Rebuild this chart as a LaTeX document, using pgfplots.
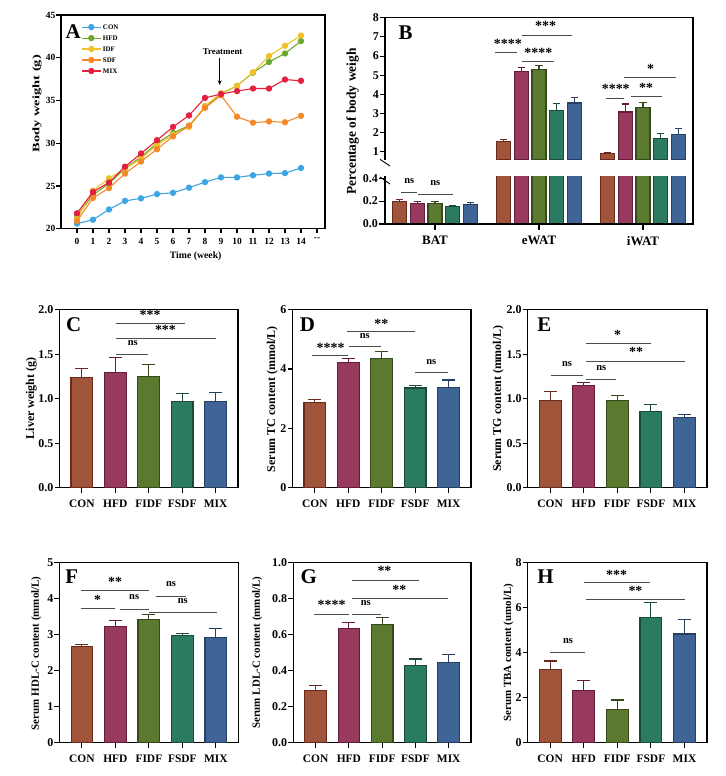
\documentclass[border=0pt]{standalone}
\usepackage{fontspec}
\setmainfont{Liberation Serif}
\usepackage{graphicx}
\usepackage{pgfplots}
\pgfplotsset{compat=1.18}
\usetikzlibrary{arrows.meta}

\definecolor{CONf}{HTML}{A0553B}\definecolor{CONd}{HTML}{6B2A1E}
\definecolor{HFDf}{HTML}{983A5E}\definecolor{HFDd}{HTML}{651C3A}
\definecolor{FIDFf}{HTML}{5B7A30}\definecolor{FIDFd}{HTML}{35491C}
\definecolor{FSDFf}{HTML}{2A7B62}\definecolor{FSDFd}{HTML}{1A4B3A}
\definecolor{MIXf}{HTML}{3F6597}\definecolor{MIXd}{HTML}{283F62}
\definecolor{LCON}{HTML}{3DA5DF}\definecolor{LHFD}{HTML}{6BAA2E}
\definecolor{LIDF}{HTML}{EFC12A}\definecolor{LSDF}{HTML}{F4892B}
\definecolor{LMIX}{HTML}{E3203E}

\newcommand{\fs}[1]{\fontsize{#1}{#1}\selectfont\bfseries}
% bar: color, x, y, err, bar width, cap half-length
\newcommand{\gbar}[6]{\addplot[ybar, bar width=#5, bar shift=0pt, fill=#1f, draw=#1d, line width=1.1bp,
  error bars/.cd, y dir=plus, y explicit,
  error bar style={line width=1.1bp, draw=#1d, solid},
  error mark=|, error mark options={line width=1.1bp, mark size=#6bp, draw=#1d, solid}]
  coordinates {(#2,#3) +- (0,#4)};}
\newcommand{\sgl}[3]{\draw[line width=0.9bp, black!70] (axis cs:#1,#3) -- (axis cs:#2,#3);}
\newcommand{\sgs}[3]{\node[font=\fs{14}, inner sep=0pt] at (axis cs:#1,#2) {#3};}
\newcommand{\sgn}[2]{\node[font=\fs{10.5}, inner sep=0pt] at (axis cs:#1,#2) {ns};}
\newcommand{\lett}[3]{\node[font=\fs{21}, inner sep=0pt] at ([xshift=#1bp,yshift=-#2bp]rel axis cs:0,1) {#3};}

\pgfplotsset{
  base/.style={scale only axis, enlargelimits=false, clip mode=individual, anchor=south west,
    tick align=outside, tick pos=left, major tick length=5bp,
    axis line style={line width=1.1bp}, every tick/.style={line width=1.1bp, black},
    /pgf/number format/assume math mode=true, minor tick num=0},
  barpanel/.style={base, xmin=-0.67, xmax=4.67, xtick={0,1,2,3,4},
    xticklabels={CON,HFD,FIDF,FSDF,MIX},
    xticklabel style={font=\fs{11.5}, inner sep=3.5bp, yshift=-3.5bp},
    yticklabel style={font=\fs{12}, inner sep=1bp}},
}

\begin{document}
\begin{tikzpicture}
\path[use as bounding box] (0bp,0bp) rectangle (726bp,776bp);

% ---------------- A ----------------
\begin{axis}[base, at={(61bp,547.3bp)}, width=264bp, height=213.7bp,
  xmin=-1, xmax=15.5, ymin=20, ymax=45, major tick length=4.5bp,
  xtick={0,...,15}, xticklabels={0,1,2,3,4,5,6,7,8,9,10,11,12,13,14,{-{}-}},
  ytick={20,25,30,35,40,45},
  tick label style={font=\fs{9.5}},
  xticklabel style={yshift=-1.5bp},
  yticklabel style={inner sep=1bp},
  xlabel={Time (week)}, xlabel style={font=\fs{9.8}, at={(axis description cs:0.51,-0.128)}, anchor=center},
  ylabel={\scalebox{1.45}[1]{Body weight (g)}}, ylabel style={font=\fs{10}, at={(axis description cs:-0.0909,0.585)}, anchor=center},
  legend style={at={(0.076,0.97)}, anchor=north west, draw=none, fill=none, inner xsep=0pt, inner ysep=0pt,
    font=\fs{7}, nodes={inner sep=1.6bp, text depth=0.1em, text height=0.68em}, cells={anchor=west}},
  legend image code/.code={\draw[mark repeat=2,mark phase=2] plot coordinates {(0bp,0bp) (9.5bp,0bp) (19bp,0bp)};},
  every axis plot/.append style={line width=1.1bp, mark=*, mark size=2.6bp}]
\addplot[LCON, mark options={fill=LCON, draw=LCON}] coordinates {(0,20.6)(1,21.05)(2,22.25)(3,23.25)(4,23.55)(5,24.05)(6,24.2)(7,24.8)(8,25.45)(9,26.0)(10,26.0)(11,26.25)(12,26.45)(13,26.5)(14,27.1)};
\addplot[LHFD, mark options={fill=LHFD, draw=LHFD}] coordinates {(0,21.5)(1,23.95)(2,25.3)(3,27.05)(4,28.4)(5,30.0)(6,31.2)(7,32.05)(8,34.2)(9,35.8)(10,36.7)(11,38.25)(12,39.5)(13,40.5)(14,41.95)};
\addplot[LIDF, mark options={fill=LIDF, draw=LIDF}] coordinates {(0,21.2)(1,24.45)(2,25.9)(3,27.0)(4,28.2)(5,29.8)(6,31.0)(7,31.9)(8,34.35)(9,35.85)(10,36.7)(11,38.3)(12,40.2)(13,41.4)(14,42.6)};
\addplot[LSDF, mark options={fill=LSDF, draw=LSDF}] coordinates {(0,20.9)(1,23.6)(2,24.75)(3,26.45)(4,27.85)(5,29.3)(6,30.8)(7,32.05)(8,34.15)(9,35.6)(10,33.1)(11,32.4)(12,32.55)(13,32.45)(14,33.2)};
\addplot[LMIX, mark options={fill=LMIX, draw=LMIX}] coordinates {(0,21.8)(1,24.3)(2,25.4)(3,27.25)(4,28.8)(5,30.35)(6,31.9)(7,33.25)(8,35.3)(9,35.75)(10,36.1)(11,36.4)(12,36.4)(13,37.45)(14,37.3)};
\legend{CON,HFD,IDF,SDF,MIX}
\node[font=\fs{8.9}] at (axis cs:9.10,40.68) {Treatment};
\draw[-{Stealth[length=4.5bp,width=4bp]}, line width=0.8bp] (axis cs:8.92,39.92) -- (axis cs:8.92,36.82);
\lett{12.3}{17}{A}
\end{axis}

% ---------------- B upper ----------------
\begin{axis}[base, at={(385bp,616bp)}, width=308bp, height=142.3bp,
  xmin=-0.4808, xmax=2.4808, ymin=0.58, ymax=8, xtick=\empty, ytick={1,2,3,4,5,6,7,8},
  axis line style={draw=none}, yticklabel style={font=\fs{12}, inner sep=1bp},
  ylabel={Percentage of body weigh}, ylabel style={font=\fs{13.5}, at={(axis description cs:-0.1055,0.27)}, anchor=center}]
\gbar{CON}{0.658}{1.56}{0.10}{0.135}{3.7}
\gbar{HFD}{0.829}{5.20}{0.22}{0.135}{3.7}
\gbar{FIDF}{1}{5.29}{0.21}{0.135}{3.7}
\gbar{FSDF}{1.171}{3.16}{0.35}{0.135}{3.7}
\gbar{MIX}{1.342}{3.55}{0.31}{0.135}{3.7}
\gbar{CON}{1.658}{0.90}{0.07}{0.135}{3.7}
\gbar{HFD}{1.829}{3.08}{0.42}{0.135}{3.7}
\gbar{FIDF}{2}{3.34}{0.23}{0.135}{3.7}
\gbar{FSDF}{2.171}{1.72}{0.24}{0.135}{3.7}
\gbar{MIX}{2.342}{1.92}{0.28}{0.135}{3.7}
\draw[line width=1.1bp] (rel axis cs:0,0) -- (rel axis cs:0,1) -- (rel axis cs:1,1) -- (rel axis cs:1,-0.116);
\draw[line width=0.9bp] ([xshift=-5bp,yshift=0.7bp]rel axis cs:0,0) -- ([xshift=5bp,yshift=-6bp]rel axis cs:0,0);
\sgl{0.577}{0.788}{6.18} \sgs{0.70}{6.62}{****}
\sgl{0.834}{1.314}{7.10} \sgs{1.064}{7.57}{***}
\sgl{0.834}{1.147}{5.71} \sgs{0.993}{6.16}{****}
\sgl{1.644}{1.82}{3.81} \sgs{1.738}{4.27}{****}
\sgl{1.885}{2.18}{3.87} \sgs{2.029}{4.34}{**}
\sgl{1.82}{2.317}{4.91} \sgs{2.074}{5.34}{*}
\lett{20.7}{14.6}{B}
\end{axis}

% ---------------- B lower ----------------
\begin{axis}[base, at={(385bp,552bp)}, width=308bp, height=47.5bp, major tick length=6bp,
  xmin=-0.4808, xmax=2.4808, ymin=0, ymax=0.415, xtick={0,1,2}, xticklabels={BAT,eWAT,iWAT},
  ytick={0,0.2,0.4}, yticklabels={0.0,0.2,0.4},
  axis line style={draw=none}, yticklabel style={font=\fs{12}, inner sep=1bp},
  xticklabel style={font=\fs{13}, yshift=-2.5bp}]
\gbar{CON}{-0.342}{0.198}{0.018}{0.135}{3.7}
\gbar{HFD}{-0.171}{0.181}{0.018}{0.135}{3.7}
\gbar{FIDF}{0}{0.178}{0.018}{0.135}{3.7}
\gbar{FSDF}{0.171}{0.150}{0.013}{0.135}{3.7}
\gbar{MIX}{0.342}{0.173}{0.017}{0.135}{3.7}
\gbar{CON}{0.658}{1.56}{0.10}{0.135}{3.7}
\gbar{HFD}{0.829}{5.20}{0.22}{0.135}{3.7}
\gbar{FIDF}{1}{5.29}{0.21}{0.135}{3.7}
\gbar{FSDF}{1.171}{3.16}{0.35}{0.135}{3.7}
\gbar{MIX}{1.342}{3.55}{0.31}{0.135}{3.7}
\gbar{CON}{1.658}{0.90}{0.07}{0.135}{3.7}
\gbar{HFD}{1.829}{3.08}{0.42}{0.135}{3.7}
\gbar{FIDF}{2}{3.34}{0.23}{0.135}{3.7}
\gbar{FSDF}{2.171}{1.72}{0.24}{0.135}{3.7}
\gbar{MIX}{2.342}{1.92}{0.28}{0.135}{3.7}
\draw[line width=1.1bp] (rel axis cs:0,1) -- (rel axis cs:0,0) -- (rel axis cs:1,0) -- (rel axis cs:1,1);
\draw[line width=0.9bp] ([xshift=-5bp,yshift=-0.5bp]rel axis cs:0,1) -- ([xshift=5bp,yshift=-7.5bp]rel axis cs:0,1);
\sgl{-0.33}{-0.17}{0.277} \sgn{-0.247}{0.376}
\sgl{-0.161}{0.17}{0.256} \sgn{0.003}{0.355}
\end{axis}

% ---------------- C ----------------
\begin{axis}[barpanel, at={(59.5bp,288.3bp)}, width=178.5bp, height=178bp, ymin=0, ymax=2,
  ytick={0,0.5,1,1.5,2}, yticklabels={0.0,0.5,1.0,1.5,2.0},
  ylabel={Liver weight (g)}, ylabel style={font=\fs{12}, at={(axis description cs:-0.1585,0.502)}, anchor=center}]
\gbar{CON}{0}{1.242}{0.094}{0.65}{6.5}
\gbar{HFD}{1}{1.29}{0.177}{0.65}{6.5}
\gbar{FIDF}{2}{1.246}{0.142}{0.65}{6.5}
\gbar{FSDF}{3}{0.968}{0.086}{0.65}{6.5}
\gbar{MIX}{4}{0.972}{0.101}{0.65}{6.5}
\sgl{1.02}{3.07}{1.842} \sgs{2.04}{1.940}{***}
\sgl{1.02}{4.01}{1.674} \sgs{2.50}{1.772}{***}
\sgl{1.02}{1.97}{1.497} \sgn{1.52}{1.625}
\lett{14.2}{15}{C}
\end{axis}

% ---------------- D ----------------
\begin{axis}[barpanel, at={(292.5bp,288.3bp)}, width=178.5bp, height=178bp, ymin=0, ymax=6,
  ytick={0,2,4,6},
  ylabel={Serum TC content (mmol/L)}, ylabel style={font=\fs{12}, at={(axis description cs:-0.1137,0.497)}, anchor=center}]
\gbar{CON}{0}{2.87}{0.11}{0.65}{6.5}
\gbar{HFD}{1}{4.23}{0.12}{0.65}{6.5}
\gbar{FIDF}{2}{4.36}{0.24}{0.65}{6.5}
\gbar{FSDF}{3}{3.36}{0.07}{0.65}{6.5}
\gbar{MIX}{4}{3.39}{0.24}{0.65}{6.5}
\sgl{-0.10}{0.985}{4.47} \sgs{0.47}{4.70}{****}
\sgl{1.01}{1.99}{4.77} \sgn{1.49}{5.10}
\sgl{0.97}{2.98}{5.28} \sgs{1.99}{5.51}{**}
\sgl{2.99}{3.98}{3.89} \sgn{3.48}{4.23}
\lett{15}{14.5}{D}
\end{axis}

% ---------------- E ----------------
\begin{axis}[barpanel, at={(527.7bp,288.3bp)}, width=179.3bp, height=178bp, ymin=0, ymax=2,
  ytick={0,0.5,1,1.5,2}, yticklabels={0.0,0.5,1.0,1.5,2.0},
  ylabel={Serum TG content (mmol/L)}, ylabel style={font=\fs{12}, at={(axis description cs:-0.164,0.5)}, anchor=center}]
\gbar{CON}{0}{0.979}{0.098}{0.65}{6.5}
\gbar{HFD}{1}{1.148}{0.030}{0.65}{6.5}
\gbar{FIDF}{2}{0.976}{0.060}{0.65}{6.5}
\gbar{FSDF}{3}{0.856}{0.078}{0.65}{6.5}
\gbar{MIX}{4}{0.792}{0.034}{0.65}{6.5}
\sgl{0.03}{0.97}{1.261} \sgn{0.50}{1.392}
\sgl{1.07}{1.96}{1.220} \sgn{1.52}{1.339}
\sgl{1.07}{3.01}{1.625} \sgs{2.01}{1.722}{*}
\sgl{1.07}{4.02}{1.423} \sgs{2.56}{1.527}{**}
\lett{16.6}{15}{E}
\end{axis}

% ---------------- F ----------------
\begin{axis}[barpanel, at={(59.5bp,33.3bp)}, width=178.8bp, height=180bp, ymin=0, ymax=5,
  ytick={0,1,2,3,4,5},
  ylabel={Serum HDL-C content (mmol/L)}, ylabel style={font=\fs{11}, at={(axis description cs:-0.1303,0.497)}, anchor=center}]
\gbar{CON}{0}{2.66}{0.08}{0.65}{6.5}
\gbar{HFD}{1}{3.22}{0.17}{0.65}{6.5}
\gbar{FIDF}{2}{3.43}{0.12}{0.65}{6.5}
\gbar{FSDF}{3}{2.97}{0.06}{0.65}{6.5}
\gbar{MIX}{4}{2.93}{0.23}{0.65}{6.5}
\sgl{-0.03}{2.01}{4.23} \sgs{0.99}{4.46}{**}
\sgl{-0.03}{0.99}{3.73} \sgs{0.47}{3.98}{*}
\sgl{1.13}{2.01}{3.71} \sgn{1.56}{4.04}
\sgl{2.21}{3.10}{4.06} \sgn{2.66}{4.41}
\sgl{2.01}{4.03}{3.61} \sgn{3.01}{3.94}
\lett{12.2}{14.3}{F}
\end{axis}

% ---------------- G ----------------
\begin{axis}[barpanel, at={(293.3bp,33.3bp)}, width=177.7bp, height=180bp, ymin=0, ymax=1,
  ytick={0,0.2,0.4,0.6,0.8,1}, yticklabels={0.0,0.2,0.4,0.6,0.8,1.0},
  ylabel={Serum LDL-C content (mmol/L)}, ylabel style={font=\fs{11}, at={(axis description cs:-0.2031,0.5)}, anchor=center}]
\gbar{CON}{0}{0.289}{0.028}{0.65}{6.5}
\gbar{HFD}{1}{0.633}{0.036}{0.65}{6.5}
\gbar{FIDF}{2}{0.659}{0.037}{0.65}{6.5}
\gbar{FSDF}{3}{0.431}{0.034}{0.65}{6.5}
\gbar{MIX}{4}{0.444}{0.047}{0.65}{6.5}
\sgl{-0.04}{1.0}{0.713} \sgs{0.48}{0.767}{****}
\sgl{1.08}{1.96}{0.713} \sgn{1.51}{0.778}
\sgl{1.08}{3.12}{0.904} \sgs{2.07}{0.952}{**}
\sgl{1.08}{3.97}{0.802} \sgs{2.52}{0.85}{**}
\lett{15.5}{14.3}{G}
\end{axis}

% ---------------- H ----------------
\begin{axis}[barpanel, at={(527.7bp,33.3bp)}, width=179.3bp, height=180bp, ymin=0, ymax=8,
  ytick={0,2,4,6,8},
  ylabel={Serum TBA content (umol/L)}, ylabel style={font=\fs{11}, at={(axis description cs:-0.1071,0.5)}, anchor=center}]
\gbar{CON}{0}{3.26}{0.37}{0.65}{6.5}
\gbar{HFD}{1}{2.34}{0.42}{0.65}{6.5}
\gbar{FIDF}{2}{1.48}{0.42}{0.65}{6.5}
\gbar{FSDF}{3}{5.56}{0.66}{0.65}{6.5}
\gbar{MIX}{4}{4.83}{0.65}{0.65}{6.5}
\sgl{0}{1.03}{4.02} \sgn{0.53}{4.53}
\sgl{1.0}{2.96}{7.11} \sgs{1.98}{7.48}{***}
\sgl{1.06}{4.02}{6.36} \sgs{2.54}{6.74}{**}
\lett{17.8}{14.3}{H}
\end{axis}
\end{tikzpicture}
\end{document}
